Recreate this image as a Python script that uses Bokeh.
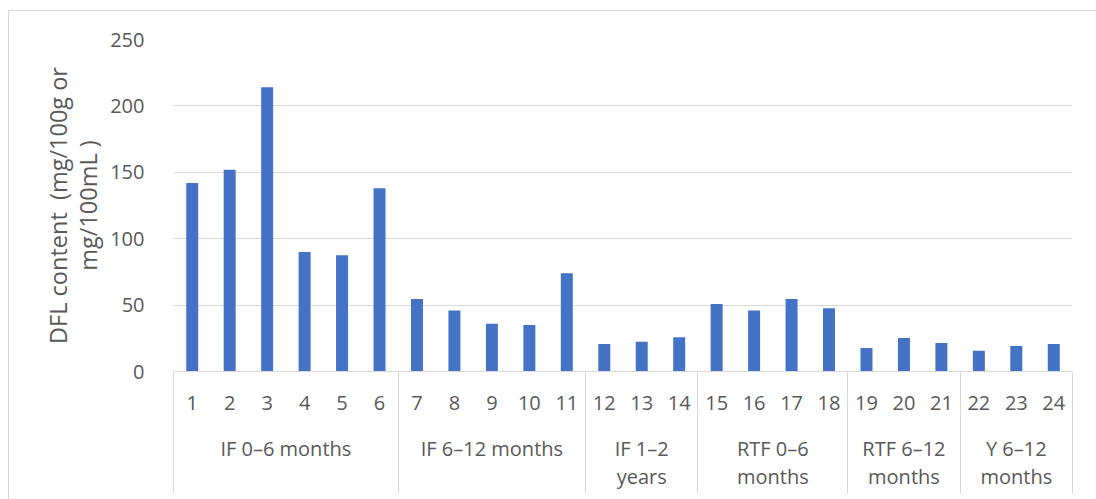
from bokeh.plotting import figure
from bokeh.models import ColumnDataSource, Range1d, FixedTicker, LinearAxis
from bokeh.embed import file_html
from bokeh.resources import INLINE

# ---- data ----
samples = list(range(1, 25))
dfl = [142, 152, 214, 90, 87.5, 138,
       54.6, 46, 36, 35, 74,
       20.7, 22.4, 25.7,
       50.8, 46, 54.6, 47.6,
       17.7, 25.2, 21.5,
       15.7, 19.2, 20.7]
groups = ["IF 0–6 months", "IF 6–12 months", "IF 1–2\nyears",
          "RTF 0–6\nmonths", "RTF 6–12\nmonths", "Y 6–12\nmonths"]
group_sizes = [6, 5, 3, 4, 3, 3]
y_ticks = [0, 50, 100, 150, 200, 250]
y_title = "DFL content \u00a0(mg/100g or\nmg/100mL )"

FONT = "Open Sans"
TXT = "#595959"
GRID = "#d9d9d9"

# group boundaries / centres
bounds = [0.5]
for s in group_sizes:
    bounds.append(bounds[-1] + s)
centers = [(bounds[i] + bounds[i + 1]) / 2 for i in range(len(group_sizes))]

p = figure(width=1096, height=499, output_backend="svg", toolbar_location=None,
           x_range=Range1d(bounds[0], bounds[-1]), y_range=Range1d(0, 250),
           min_border_left=173, min_border_right=24, min_border_top=39,
           min_border_bottom=128)
p.outline_line_color = None
p.background_fill_color = "white"
p.border_fill_color = None
# faint chart-area border (left and top edges)
p.styles = {"background-color": "white",
            "box-shadow": ("inset 8px 0 0 0 white, inset 0 10px 0 0 white, "
                           "inset 9px 0 0 0 #d9d9d9, inset 0 11px 0 0 #d9d9d9")}

src = ColumnDataSource(dict(x=samples, top=dfl))
p.vbar(x="x", top="top", bottom=0, width=0.32, source=src,
       fill_color="#4472C4", line_color=None)

# y axis
p.yaxis.ticker = FixedTicker(ticks=y_ticks)
p.yaxis.axis_line_color = None
p.yaxis.major_tick_line_color = None
p.yaxis.minor_tick_line_color = None
p.yaxis.major_label_standoff = 23
p.yaxis.major_label_text_font = FONT
p.yaxis.major_label_text_font_size = "20px"
p.yaxis.major_label_text_color = TXT
p.yaxis.axis_label = y_title
p.yaxis.axis_label_text_font = FONT
p.yaxis.axis_label_text_font_size = "23.5px"
p.yaxis.axis_label_text_font_style = "normal"
p.yaxis.axis_label_text_color = TXT
p.yaxis.axis_label_text_line_height = 0.93
p.yaxis.axis_label_standoff = 3

p.ygrid.grid_line_color = GRID
p.ygrid.grid_line_width = 1
p.xgrid.grid_line_color = None

# x axis 1: sample numbers + group separators (minor ticks)
xa = p.xaxis[0]
xa.ticker = FixedTicker(ticks=samples, minor_ticks=bounds)
xa.axis_line_color = GRID
xa.major_tick_out = 0
xa.major_tick_in = 0
xa.minor_tick_in = 0
xa.minor_tick_out = 122
xa.minor_tick_line_color = GRID
xa.major_label_standoff = -98
xa.major_label_text_font = FONT
xa.major_label_text_font_size = "20px"
xa.major_label_text_color = TXT

# x axis 2: group names
ga = LinearAxis(ticker=FixedTicker(ticks=centers, minor_ticks=[]),
                major_label_overrides={c: g for c, g in zip(centers, groups)})
ga.axis_line_color = None
ga.major_tick_line_color = None
ga.minor_tick_line_color = None
ga.major_label_standoff = 16
ga.major_label_text_font = FONT
ga.major_label_text_font_size = "20px"
ga.major_label_text_color = TXT
ga.major_label_text_line_height = 1.05
p.add_layout(ga, "below")

open("out.html", "w").write(file_html(p, INLINE))
